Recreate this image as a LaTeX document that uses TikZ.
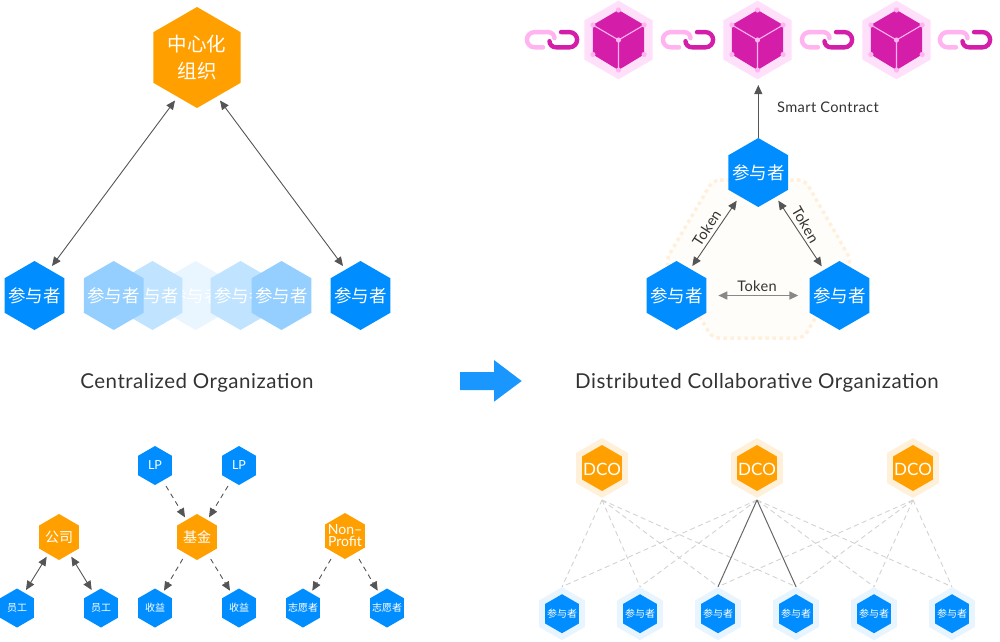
\documentclass[tikz,border=0pt]{standalone}
\usepackage{fontspec}
\setmainfont{Lato}
\newfontfamily\cjk{Noto Sans CJK SC}
\newfontfamily\spaced[LetterSpace=2.5]{Lato}
\usetikzlibrary{shapes.geometric,arrows.meta}
\definecolor{hblue}{HTML}{008DFF}
\definecolor{horange}{HTML}{FFA000}
\definecolor{hglow}{HTML}{FFF0DA}
\definecolor{bglow}{HTML}{E8F5FF}
\definecolor{fadeA}{HTML}{94CFFF}
\definecolor{fadeB}{HTML}{C0E3FF}
\definecolor{fadeC}{HTML}{E9F5FF}
\definecolor{conn}{HTML}{555555}
\definecolor{ink}{HTML}{333333}
\definecolor{magA}{HTML}{D41EA9}
\definecolor{magB}{HTML}{FFB3EF}
\definecolor{magC}{HTML}{FFE0FA}
\definecolor{dashg}{HTML}{D2D2D2}
\definecolor{dotc}{HTML}{FFF0DC}
\definecolor{dotf}{HTML}{FFFDF9}
\definecolor{bigarrow}{HTML}{1A96FF}
\tikzset{
  hx/.style={regular polygon,regular polygon sides=6,shape border rotate=30,inner sep=0pt,outer sep=0pt,draw=none},
  hl/.style={text=white,inner sep=0pt,align=center},
  arr/.style={draw=conn,line width=0.9pt,-{Triangle[length=9pt,width=8pt]}},
  darr/.style={draw=conn,line width=0.9pt,{Triangle[length=9pt,width=8pt]}-{Triangle[length=9pt,width=8pt]}},
  dsh/.style={draw=conn,line width=0.9pt,dash pattern=on 5pt off 4pt,-{Triangle[length=9pt,width=8pt]}},
  web/.style={draw=dashg,line width=0.9pt,dash pattern=on 5pt off 3.5pt},
  webs/.style={draw=conn!90,line width=1pt},
  captxt/.style={text=ink,inner sep=0pt,font=\spaced\fontsize{20.5}{22}\selectfont},
  tok/.style={text=ink,inner sep=0pt,font=\spaced\fontsize{14.6}{16}\selectfont},
}
\newcommand\hexn[5]{% size, fill, name, pos, font+text
  \node[hx,minimum size=#1pt,fill=#2] (#3) at (#4) {};
  \node[hl] (#3t) at (#3) {#5};}
\newcommand\bigz{\cjk\fontsize{17.5}{20}\selectfont}
\newcommand\smz{\cjk\fontsize{10}{12}\selectfont}
\newcommand\midz{\cjk\fontsize{14}{16}\selectfont}
\begin{document}
\begin{tikzpicture}[x=1pt,y=-1pt]
\useasboundingbox (0,0) rectangle (1000,641);
% ---- chain
\foreach \i/\cx in {1/618.5,2/757.5,3/896.5}{
  \begin{scope}[shift={(\cx,40)}]
    \node[hx,minimum size=78.6pt,fill=magC] (block\i) at (0,0) {};
    \fill[magA] (0,-30)--(25.6,-15)--(25.6,14.5)--(0,30)--(-25.6,14.5)--(-25.6,-15)--cycle;
    \draw[magB,line width=1.1pt] (-25.6,-15)--(0,0)--(25.6,-15) (0,0)--(0,30);
    \foreach \a/\b in {0/-30,25.6/-15,25.6/14.5,0/30,-25.6/14.5,-25.6/-15,0/0}
      \fill[magB] (\a,\b) circle (2.6pt);
  \end{scope}}
\foreach \cx in {552,688,827,965}{
  \begin{scope}[shift={(\cx,39.7)}]
    \draw[magB,line width=4.4pt,line cap=round] (-9,7.6)--(-17.5,7.6) .. controls (-21.7,7.6) and (-25.1,4.2) .. (-25.1,0) .. controls (-25.1,-4.2) and (-21.7,-7.6) .. (-17.5,-7.6) -- (-4,-7.6) .. controls (0,-7.6) and (2.5,-4.5) .. (2.5,-1.5);
    \draw[magA,line width=4.4pt,line cap=round] (9,-7.6)--(17.5,-7.6) .. controls (21.7,-7.6) and (25.1,-4.2) .. (25.1,0) .. controls (25.1,4.2) and (21.7,7.6) .. (17.5,7.6) -- (4,7.6) .. controls (0,7.6) and (-2.5,4.5) .. (-2.5,1.5);
  \end{scope}}
% ---- left top
\node[hx,minimum size=101pt,fill=horange] (top) at (197,57.5) {};
\node[hl,font=\cjk\fontsize{19.5}{27.5}\selectfont] (topt) at (top) {中心化\\组织};
\hexn{69}{hblue}{pa}{34.5,295.5}{\bigz 参与者}
\hexn{69}{hblue}{pb}{360.5,295.5}{\bigz 参与者}
\hexn{69}{fadeC}{fc}{195.7,295.5}{\bigz 参与者}
\hexn{69}{fadeB}{fb}{152.5,295.5}{\bigz 参与者}
\hexn{69}{fadeB}{fd}{240.5,295.5}{\bigz 参与者}
\hexn{69}{fadeA}{fa}{113.7,295.5}{\bigz 参与者}
\hexn{69}{fadeA}{fe}{281.5,295.5}{\bigz 参与者}
\draw[darr] ([shift={(-22,43)}]top.center) -- ([shift={(17.5,-29.5)}]pa.center);
\draw[darr] ([shift={(23,43)}]top.center) -- ([shift={(-17.5,-29.5)}]pb.center);
\node[captxt] (capl) at (197,382.5) {Centralized Organization};
\node[captxt] (capr) at (757,382.5) {Distributed Collaborative Organization};
\fill[bigarrow] (460,372)--(494,372)--(494,360)--(521.7,381)--(494,401.7)--(494,390)--(460,390)--cycle;
% ---- triangle
\draw[draw=dotc,fill=dotf,line width=3.5pt,dash pattern=on 3.5pt off 3.5pt,rounded corners=7pt]
  (713,180)--(805,180)--(851,260)--(838,296)--(815,318)--(804,338)--(712,338)--(702,320)--(680,296)--(666,260)--cycle;
\hexn{69}{hblue}{tt}{758.3,172.5}{\bigz 参与者}
\hexn{69}{hblue}{tl}{676.5,295.5}{\bigz 参与者}
\hexn{69}{hblue}{tr}{839.5,295.5}{\bigz 参与者}
\draw[arr] (tt.north) -- ([yshift=53pt]tt.north);
\node[tok,anchor=west] (sc) at (777,107.5) {Smart Contract};
\draw[darr] ([shift={(-21.6,28.2)}]tt.center) -- ([shift={(15.8,-29.5)}]tl.center);
\draw[darr] ([shift={(20,28.2)}]tt.center) -- ([shift={(-17.8,-29.2)}]tr.center);
\draw[darr,draw=conn!70,line width=1.6pt] ([xshift=41.8pt]tl.center) -- ([xshift=-41.2pt]tr.center);
\node[tok,rotate=57] (t1) at (706.7,228) {Token};
\node[tok,rotate=-60] (t2) at (805.5,224.5) {Token};
\node[tok] (t3) at (757,286) {Token};
% ---- bottom left
\hexn{46}{horange}{co}{59,537}{\midz 公司}
\hexn{46}{horange}{fu}{197,537}{\midz 基金}
\node[hx,minimum size=46pt,fill=horange] (np) at (345,536) {};
\node[hl,font=\fontsize{14}{12}\selectfont] (npt) at (np) {Non–\\Profit};
\hexn{39}{hblue}{e1}{17,608}{\smz 员工}
\hexn{39}{hblue}{e2}{101,608}{\smz 员工}
\hexn{39}{hblue}{s1}{155,608}{\smz 收益}
\hexn{39}{hblue}{s2}{239,608}{\smz 收益}
\hexn{39}{hblue}{v1}{303,608}{\smz 志愿者}
\hexn{39}{hblue}{v2}{387,608}{\smz 志愿者}
\hexn{39}{hblue}{l1}{155,465.5}{\fontsize{12.5}{14}\selectfont LP}
\hexn{39}{hblue}{l2}{239,465.5}{\fontsize{12.5}{14}\selectfont LP}
\draw[darr] ([shift={(-12.3,19.7)}]co.center) -- ([shift={(9,-18)}]e1.center);
\draw[darr] ([shift={(12.3,19.7)}]co.center) -- ([shift={(-9.3,-18)}]e2.center);
\draw[dsh] ([shift={(11,20.5)}]l1.center) -- ([shift={(-12,-19.7)}]fu.center);
\draw[dsh] ([shift={(-11,20.5)}]l2.center) -- ([shift={(12,-19.7)}]fu.center);
\draw[dsh] ([shift={(-14.3,22)}]fu.center) -- ([shift={(9,-17.3)}]s1.center);
\draw[dsh] ([shift={(13.7,22)}]fu.center) -- ([shift={(-9,-17.3)}]s2.center);
\draw[dsh] ([shift={(-14,23)}]np.center) -- ([shift={(9.3,-17.3)}]v1.center);
\draw[dsh] ([shift={(14,23)}]np.center) -- ([shift={(-9.3,-17.3)}]v2.center);
% ---- bottom right
\foreach \i/\cx in {1/602,2/757,3/913}{
  \node[hx,minimum size=60pt,fill=hglow] (dg\i) at (\cx,468) {};
  \node[hx,minimum size=46pt,fill=horange] (d\i) at (\cx,468) {};
  \node[hl,font=\fontsize{17}{18}\selectfont] (d\i t) at (\cx,469.5) {DCO};
}
\foreach \i/\cx in {1/562,2/640,3/718,4/796,5/874,6/952}{
  \node[hx,minimum size=53pt,fill=bglow] (pg\i) at (\cx,613.7) {};
  \node[hx,minimum size=39pt,fill=hblue] (q\i) at (\cx,613.7) {};
  \node[hl,font=\smz] (q\i t) at (q\i) {参与者};
}
\foreach \a/\b in {1/1,1/2,1/3,1/4,2/1,2/2,2/5,2/6,3/3,3/4,3/5,3/6}
  \draw[web] ([yshift=-2pt]dg\a.south) -- ([yshift=0.5pt]pg\b.north);
\draw[webs] ([yshift=-2pt]dg2.south) -- ([yshift=0.5pt]pg3.north);
\draw[webs] ([yshift=-2pt]dg2.south) -- ([yshift=0.5pt]pg4.north);
\end{tikzpicture}
\end{document}
